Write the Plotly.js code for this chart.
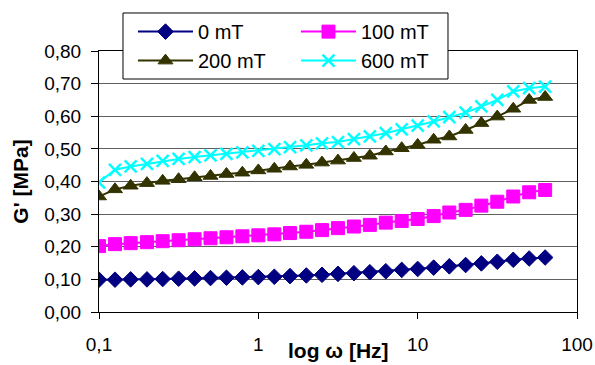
<!DOCTYPE html>
<html>
<head>
<meta charset="utf-8">
<script src="https://cdn.plot.ly/plotly-3.0.1.min.js"></script>
<style>
  html, body { margin: 0; padding: 0; background: #ffffff; }
  #chart { width: 595px; height: 365px; }
</style>
</head>
<body>
<div id="chart"></div>
<script>
// Frequency (Hz)
const freq = [0.1, 0.126, 0.158, 0.2, 0.251, 0.316, 0.398, 0.501, 0.631, 0.794,
              1, 1.26, 1.58, 2, 2.51, 3.16, 3.98, 5.01, 6.31, 7.94,
              10, 12.6, 15.8, 20, 25.1, 31.6, 39.8, 50.1, 63.1];

// G' (MPa) per magnetic field
const g0mT   = [0.099, 0.099, 0.100, 0.100, 0.101, 0.102, 0.103, 0.104, 0.105, 0.106,
                0.107, 0.108, 0.110, 0.112, 0.114, 0.117, 0.119, 0.122, 0.125, 0.129,
                0.132, 0.136, 0.140, 0.144, 0.149, 0.154, 0.160, 0.164, 0.167];
const g100mT = [0.202, 0.208, 0.211, 0.214, 0.217, 0.220, 0.223, 0.226, 0.229, 0.232,
                0.235, 0.238, 0.242, 0.246, 0.251, 0.257, 0.262, 0.267, 0.274, 0.279,
                0.285, 0.294, 0.305, 0.313, 0.326, 0.338, 0.354, 0.367, 0.374];
const g200mT = [0.354, 0.376, 0.387, 0.395, 0.402, 0.407, 0.413, 0.417, 0.423, 0.427,
                0.434, 0.439, 0.446, 0.451, 0.458, 0.464, 0.472, 0.479, 0.492, 0.502,
                0.512, 0.528, 0.538, 0.558, 0.579, 0.599, 0.623, 0.650, 0.659];
const g600mT = [0.397, 0.436, 0.446, 0.454, 0.463, 0.469, 0.475, 0.480, 0.485, 0.489,
                0.494, 0.499, 0.505, 0.511, 0.517, 0.521, 0.530, 0.538, 0.548, 0.560,
                0.571, 0.584, 0.597, 0.611, 0.630, 0.650, 0.676, 0.686, 0.691];

const seriesNames = ['0 mT', '100 mT', '200 mT', '600 mT'];
const xTickVals = [0.1, 1, 10, 100];
const xTickText = ['0,1', '1', '10', '100'];
const xTitle = 'log ω [Hz]';
const yTitle = "G' [MPa]";

const FONT = '"Liberation Sans", Arial, sans-serif';

function mk(name, y, color, symbol, size, legend) {
  return {
    type: 'scatter', mode: 'lines+markers', name: name, legend: legend,
    x: freq, y: y,
    line: { color: color, width: 2 },
    marker: { color: color, symbol: symbol, size: size, line: { color: color, width: symbol === 'x-thin' ? 2.5 : 1 } }
  };
}

const data = [
  mk(seriesNames[0], g0mT,   '#000080', 'diamond', 12, 'legend'),
  mk(seriesNames[1], g100mT, '#FF00FF', 'square', 13, 'legend2'),
  mk(seriesNames[2], g200mT, '#333300', 'triangle-up', 13, 'legend'),
  mk(seriesNames[3], g600mT, '#00FFFF', 'x-thin', 12, 'legend2')
];

const legendCommon = {
  orientation: 'v', xanchor: 'left', y: 1.149, yanchor: 'top',
  bgcolor: 'rgba(0,0,0,0)', borderwidth: 0,
  font: { family: FONT, size: 20, color: '#000000' },
  itemwidth: 55, traceorder: 'normal'
};

const layout = {
  width: 595, height: 365,
  margin: { l: 99, r: 18, t: 51, b: 53 },
  paper_bgcolor: '#ffffff', plot_bgcolor: '#ffffff',
  separators: ',.',
  font: { family: FONT, size: 19, color: '#000000' },
  showlegend: true,
  legend: Object.assign({}, legendCommon, { x: 0.0711 }),
  legend2: Object.assign({}, legendCommon, { x: 0.4121 }),
  xaxis: {
    type: 'log', range: [-1, 2],
    tickmode: 'array', tickvals: xTickVals, ticktext: xTickText,
    ticks: 'outside', ticklen: 6, tickcolor: '#000000', tickwidth: 1,
    ticklabelstandoff: 9,
    showline: true, linecolor: '#000000', linewidth: 1, mirror: true,
    showgrid: false, zeroline: false,
    tickfont: { family: FONT, size: 19, color: '#000000' }
  },
  yaxis: {
    range: [0, 0.8], dtick: 0.1, tick0: 0, tickformat: '.2f',
    ticks: 'outside', ticklen: 7, tickcolor: '#000000', tickwidth: 1,
    ticklabelstandoff: 6,
    showline: true, linecolor: '#000000', linewidth: 1, mirror: true,
    showgrid: true, gridcolor: '#606060', gridwidth: 1, zeroline: false,
    tickfont: { family: FONT, size: 19, color: '#000000' }
  },
  shapes: [
    { type: 'rect', xref: 'paper', yref: 'paper', layer: 'above',
      x0: 0.0502, x1: 0.7301, y0: 0.8927, y1: 1.1456,
      line: { color: '#000000', width: 1 }, fillcolor: '#ffffff' }
  ],
  annotations: [
    { text: xTitle, xref: 'paper', yref: 'paper', x: 0.5, y: -0.146,
      xanchor: 'center', yanchor: 'middle', showarrow: false,
      font: { family: FONT, size: 21, color: '#000000', weight: 'bold' } },
    { text: yTitle, xref: 'paper', yref: 'paper', x: -0.165, y: 0.5,
      xanchor: 'center', yanchor: 'middle', showarrow: false, textangle: -90,
      font: { family: FONT, size: 21, color: '#000000', weight: 'bold' } }
  ]
};

Plotly.newPlot('chart', data, layout, { displayModeBar: false, staticPlot: true });
</script>
</body>
</html>
